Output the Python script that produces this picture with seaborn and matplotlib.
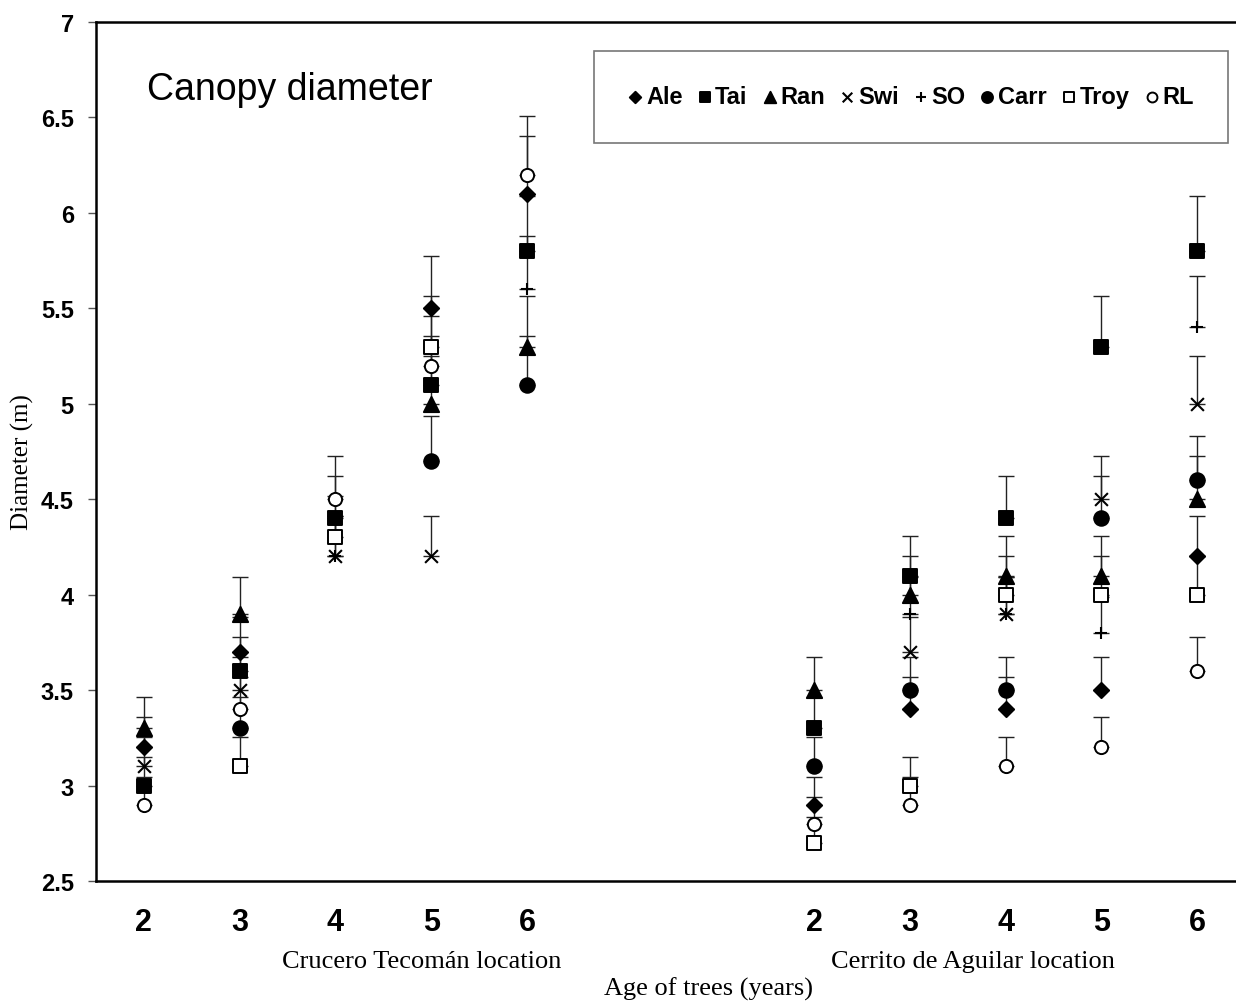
import matplotlib
matplotlib.use("Agg")
import matplotlib.pyplot as plt
import numpy as np
import pandas as pd
import seaborn as sns

# Ages within each location, and the two locations
ages = [2, 3, 4, 5, 6]
locations = ["Crucero Tecomán location", "Cerrito de Aguilar location"]
nan = np.nan

# canopy diameter (m), order: CT 2..6 then CA 2..6
ale = [3.2, 3.7, nan, 5.5, 6.1, 2.9, 3.4, 3.4, 3.5, 4.2]
tai = [3.0, 3.6, 4.4, 5.1, 5.8, 3.3, 4.1, 4.4, 5.3, 5.8]
ran = [3.3, 3.9, nan, 5.0, 5.3, 3.5, 4.0, 4.1, 4.1, 4.5]
swi = [3.1, 3.5, 4.2, 4.2, nan, nan, 3.7, 3.9, 4.5, 5.0]
so = [nan, nan, 4.2, nan, 5.6, nan, 3.9, 3.9, 3.8, 5.4]
carr = [nan, 3.3, nan, 4.7, 5.1, 3.1, 3.5, 3.5, 4.4, 4.6]
troy = [nan, 3.1, 4.3, 5.3, nan, 2.7, 3.0, 4.0, 4.0, 4.0]
rl = [2.9, 3.4, 4.5, 5.2, 6.2, 2.8, 2.9, 3.1, 3.2, 3.6]

# upper error bars
ale_err = [0.16, 0.185, nan, 0.275, 0.305, 0.145, 0.17, 0.17, 0.175, 0.21]
tai_err = [0.15, 0.18, 0.22, 0.255, 0.29, 0.165, 0.205, 0.22, 0.265, 0.29]
ran_err = [0.165, 0.195, nan, 0.25, 0.265, 0.175, 0.2, 0.205, 0.205, 0.225]
swi_err = [0.155, 0.175, 0.21, 0.21, nan, nan, 0.185, 0.195, 0.225, 0.25]
so_err = [nan, nan, 0.21, nan, 0.28, nan, 0.195, 0.195, 0.19, 0.27]
carr_err = [nan, 0.165, nan, 0.235, 0.255, 0.155, 0.175, 0.175, 0.22, 0.23]
troy_err = [nan, 0.155, 0.215, 0.265, nan, 0.135, 0.15, 0.2, 0.2, 0.2]
rl_err = [0.145, 0.17, 0.225, 0.26, 0.31, 0.14, 0.145, 0.155, 0.16, 0.18]

series = {
    "Ale": (ale, ale_err), "Tai": (tai, tai_err), "Ran": (ran, ran_err),
    "Swi": (swi, swi_err), "SO": (so, so_err), "Carr": (carr, carr_err),
    "Troy": (troy, troy_err), "RL": (rl, rl_err),
}
# marker, size, face colour
styles = {
    "Ale": ("D", 60, "black"), "Tai": ("s", 105, "black"), "Ran": ("^", 120, "black"),
    "Swi": ("x", 85, "black"), "SO": ("+", 85, "black"), "Carr": ("o", 110, "black"),
    "Troy": ("s", 95, "white"), "RL": ("o", 90, "white"),
}

# x slots: 5 ages, gap of 2, 5 ages
xpos = [i for i in range(len(ages))] + [i + len(ages) + 2 for i in range(len(ages))]

rows = []
for name, (vals, errs) in series.items():
    for x, v, e in zip(xpos, vals, errs):
        rows.append({"x": x, "value": v, "err": e, "series": name})
df = pd.DataFrame(rows)

sns.set_style("white")
plt.rcParams["font.family"] = ["Liberation Sans", "DejaVu Sans"]
plt.rcParams["text.color"] = "black"
plt.rcParams["xtick.color"] = "black"
plt.rcParams["ytick.color"] = "black"

fig = plt.figure(figsize=(12.36, 10.03), dpi=100)
ax = fig.add_axes([96 / 1236, 121 / 1003, (1245 - 96) / 1236, (882 - 23) / 1003])

# error bars first (upward only)
for name in series:
    d = df[df["series"] == name]
    ax.errorbar(d["x"], d["value"], yerr=[np.zeros(len(d)), d["err"]], fmt="none",
                ecolor="#222222", elinewidth=1.0, capsize=6, capthick=1.0, zorder=1)

for name in series:
    d = df[df["series"] == name].dropna(subset=["value"])
    m, s, fc = styles[name]
    if m in ("x", "+"):
        sns.scatterplot(data=d, x="x", y="value", marker=m, s=s, color="black",
                        linewidth=1.5, ax=ax, label=name, zorder=3)
    else:
        sns.scatterplot(data=d, x="x", y="value", marker=m, s=s, color=fc,
                        edgecolor="black", linewidth=1.4, ax=ax, label=name, zorder=3)

ax.set_xlim(-0.5, 11.5)
ax.set_ylim(2.5, 7)
ax.set_yticks(np.arange(2.5, 7.01, 0.5))
ax.set_yticklabels(["%g" % t for t in np.arange(2.5, 7.01, 0.5)], fontsize=17, fontweight="bold")
ax.set_xticks(xpos)
ax.set_xticklabels([str(a) for a in ages] * 2, fontsize=22, fontweight="bold")
ax.set_xticks(np.arange(-0.5, 12, 1), minor=True)
ax.tick_params(axis="x", which="major", length=0, pad=19)
ax.tick_params(axis="x", which="minor", length=6, width=1, color="#555555", direction="out")
ax.tick_params(axis="y", length=6, width=1, color="#555555", direction="out", pad=10, left=True)
ax.set_xlabel("")
ax.set_ylabel("")
for sp in ["left", "bottom", "top"]:
    ax.spines[sp].set_linewidth(1.8)
    ax.spines[sp].set_color("black")
ax.spines["right"].set_visible(False)

ax.text(0.0444, 0.922, "Canopy diameter", transform=ax.transAxes, fontsize=27,
        va="center", ha="left", color="black")

leg = ax.legend(loc="upper left", bbox_to_anchor=(0.4334, 0.8615, 0.5518, 0.1047),
                mode="expand", ncol=8, markerscale=0.75, handlelength=0.6,
                handletextpad=0.15, columnspacing=0.5, borderpad=1.45, borderaxespad=0,
                fancybox=False, frameon=True, prop={"weight": "bold", "size": 17})
leg.get_frame().set_edgecolor("#555555")
leg.get_frame().set_linewidth(1.2)
for t in leg.get_texts():
    t.set_color("black")

serif = ["Liberation Serif", "DejaVu Serif"]
fig.text(0.3414, 0.041, locations[0], ha="center", va="center", fontsize=19, family=serif)
fig.text(0.787, 0.041, locations[1], ha="center", va="center", fontsize=19, family=serif)
fig.text(0.5736, 0.014, "Age of trees (years)", ha="center", va="center", fontsize=19, family=serif)
fig.text(0.0178, 0.539, "Diameter (m)", ha="center", va="center", rotation=90,
         fontsize=18, family=serif)

fig.savefig("out.png", dpi=100)
